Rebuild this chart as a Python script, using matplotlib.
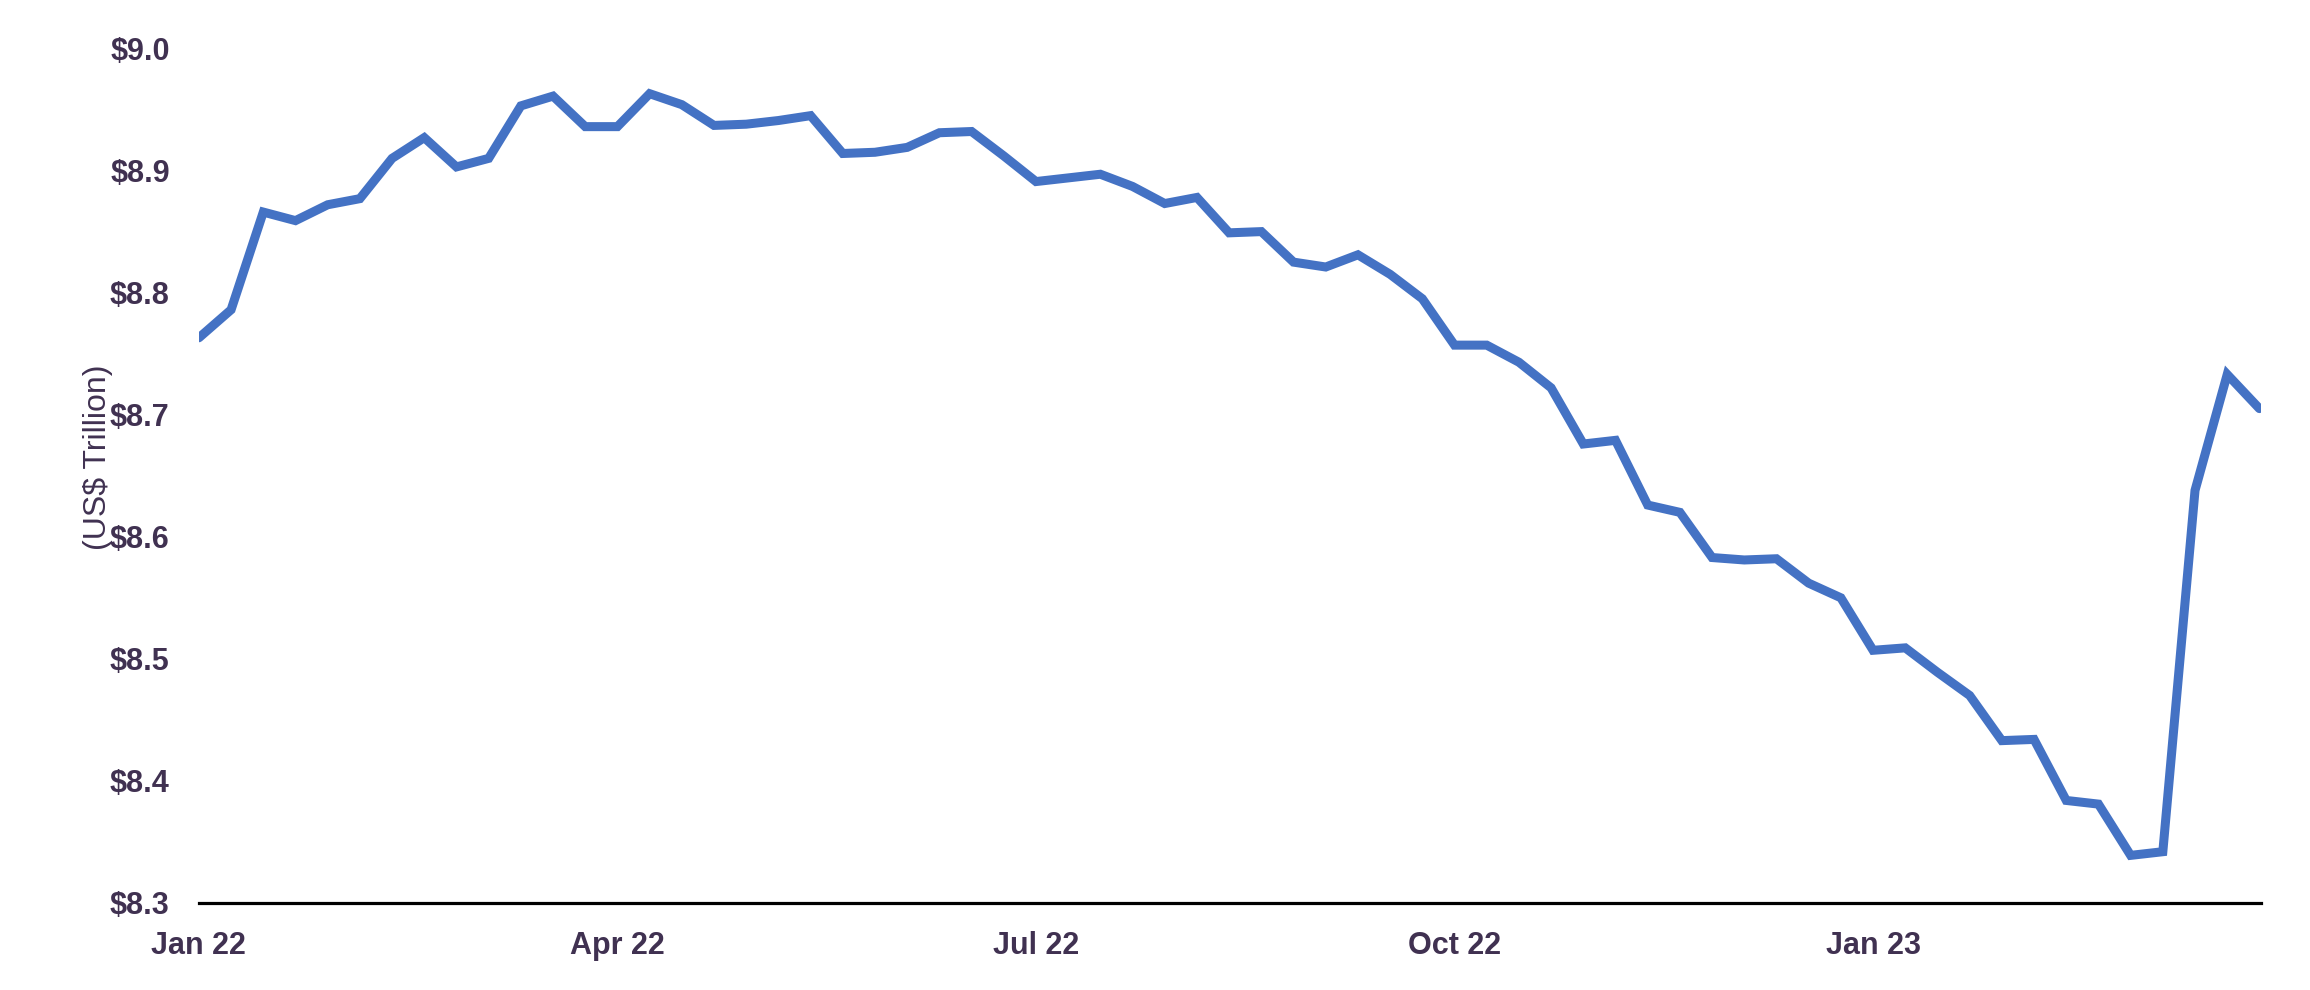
import numpy as np
import matplotlib
matplotlib.use('Agg')
import matplotlib.pyplot as plt

# weekly values, Jan 22 .. Mar 23 (US$ trillion)
values = [8.763, 8.786, 8.866, 8.859, 8.872, 8.877, 8.910, 8.927, 8.903, 8.910,
          8.953, 8.961, 8.936, 8.936, 8.963, 8.954, 8.937, 8.938, 8.941, 8.945,
          8.914, 8.915, 8.919, 8.931, 8.932, 8.912, 8.891, 8.894, 8.897, 8.887,
          8.873, 8.878, 8.849, 8.850, 8.825, 8.821, 8.831, 8.815, 8.795, 8.757,
          8.757, 8.743, 8.722, 8.676, 8.679, 8.626, 8.620, 8.583, 8.581, 8.582,
          8.562, 8.550, 8.507, 8.509, 8.489, 8.470, 8.433, 8.434, 8.384, 8.381,
          8.339, 8.342, 8.638, 8.733, 8.705]
tick_pos = [0, 13, 26, 39, 52]
tick_labels = ['Jan 22', 'Apr 22', 'Jul 22', 'Oct 22', 'Jan 23']
y_ticks = [8.3, 8.4, 8.5, 8.6, 8.7, 8.8, 8.9, 9.0]

text_color = '#403151'
line_color = '#4472C4'

plt.rcParams['font.family'] = ['Liberation Sans', 'DejaVu Sans']

fig = plt.figure(figsize=(23.1, 9.9), dpi=100)
ax = fig.add_axes([0.0861, 0.0879, 0.8927, 0.8631])

x = np.arange(len(values))
ax.plot(x, values, color=line_color, linewidth=6.5,
        solid_capstyle='round', solid_joinstyle='miter')

ax.set_xlim(0, 64.05)
ax.set_ylim(8.3, 9.0)

ax.set_xticks(tick_pos)
ax.set_xticklabels(tick_labels)
ax.set_yticks(y_ticks)
ax.set_yticklabels(['$%.1f' % v for v in y_ticks])

ax.tick_params(axis='both', length=0, labelsize=22, labelcolor=text_color)
ax.tick_params(axis='y', pad=21)
ax.tick_params(axis='x', pad=20)
for lab in ax.get_xticklabels() + ax.get_yticklabels():
    lab.set_fontweight('bold')

for s in ['top', 'right', 'left']:
    ax.spines[s].set_visible(False)
ax.spines['bottom'].set_color('black')
ax.spines['bottom'].set_linewidth(2.3)
ax.spines['bottom'].set_zorder(0)

ax.set_ylabel('(US$ Trillion)', fontsize=23, color=text_color)
ax.yaxis.set_label_coords(-0.0415, 0.522)

fig.savefig('out.png', dpi=100)
